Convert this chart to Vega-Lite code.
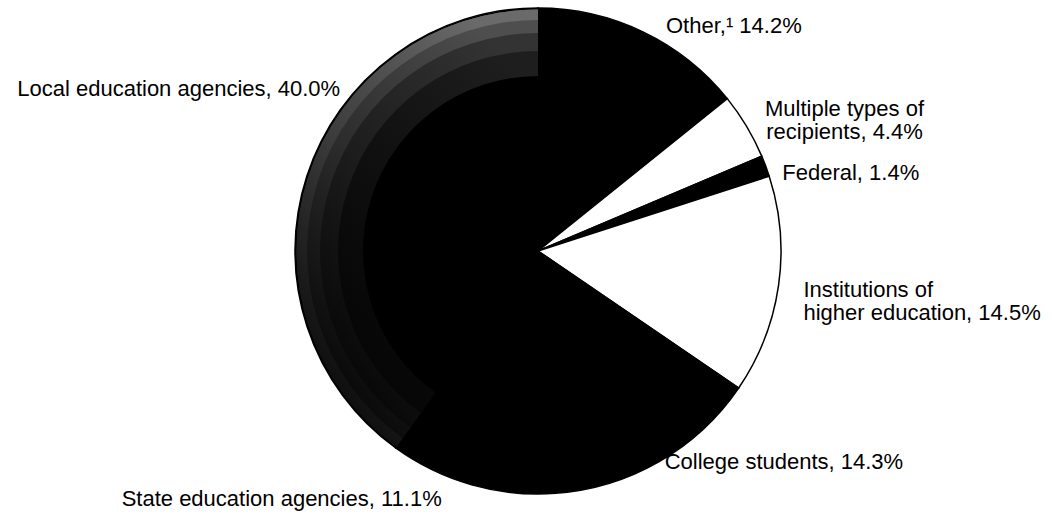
{
  "$schema": "https://vega.github.io/schema/vega-lite/v6.json",
  "width": 1000,
  "height": 486,
  "autosize": {"type": "none"},
  "padding": {"left": 38, "top": 8, "right": 14, "bottom": 29},
  "background": "white",
  "config": {"view": {"stroke": null}},
  "data": {
    "values": [
      {"cat": "Other", "label": "Other,¹ 14.2%", "pct": 14.2, "ord": 1},
      {"cat": "Multiple", "label": "Multiple types of\nrecipients, 4.4%", "pct": 4.4, "ord": 2},
      {"cat": "Federal", "label": "Federal, 1.4%", "pct": 1.4, "ord": 3},
      {"cat": "Institutions", "label": "Institutions of\nhigher education, 14.5%", "pct": 14.5, "ord": 4},
      {"cat": "College", "label": "College students, 14.3%", "pct": 14.3, "ord": 5},
      {"cat": "State", "label": "State education agencies, 11.1%", "pct": 11.1, "ord": 6},
      {"cat": "Local", "label": "Local education agencies, 40.0%", "pct": 40.0, "ord": 7}
    ]
  },
  "encoding": {
    "theta": {"field": "pct", "type": "quantitative", "stack": true},
    "order": {"field": "ord", "type": "quantitative"}
  },
  "layer": [
    {
      "mark": {"type": "arc", "outerRadius": 243, "stroke": "#000", "strokeWidth": 1.5},
      "encoding": {
        "color": {
          "field": "cat",
          "type": "nominal",
          "scale": {
            "domain": ["Other", "Multiple", "Federal", "Institutions", "College", "State", "Local"],
            "range": ["#000000", "#ffffff", "#000000", "#ffffff", "#000000", "#000000", "#000000"]
          },
          "legend": null
        }
      }
    },
    {
      "mark": {
        "type": "arc", "innerRadius": 175, "outerRadius": 241.5, "strokeWidth": 0,
        "fill": {"gradient": "linear", "x1": 0.7, "y1": 0, "x2": 0.05, "y2": 0.9,
          "stops": [{"offset": 0, "color": "#1e1e1e"}, {"offset": 0.5, "color": "#0e0e0e"}, {"offset": 1, "color": "#000000"}]}
      },
      "encoding": {"opacity": {"condition": {"test": "datum.cat === 'Local'", "value": 1}, "value": 0}}
    },
    {
      "mark": {
        "type": "arc", "innerRadius": 200, "outerRadius": 241.5, "strokeWidth": 0,
        "fill": {"gradient": "linear", "x1": 0.7, "y1": 0, "x2": 0.05, "y2": 0.9,
          "stops": [{"offset": 0, "color": "#333333"}, {"offset": 0.5, "color": "#1c1c1c"}, {"offset": 1, "color": "#000000"}]}
      },
      "encoding": {"opacity": {"condition": {"test": "datum.cat === 'Local'", "value": 1}, "value": 0}}
    },
    {
      "mark": {
        "type": "arc", "innerRadius": 218, "outerRadius": 241.5, "strokeWidth": 0,
        "fill": {"gradient": "linear", "x1": 0.7, "y1": 0, "x2": 0.05, "y2": 0.9,
          "stops": [{"offset": 0, "color": "#4e4e4e"}, {"offset": 0.5, "color": "#2c2c2c"}, {"offset": 1, "color": "#000000"}]}
      },
      "encoding": {"opacity": {"condition": {"test": "datum.cat === 'Local'", "value": 1}, "value": 0}}
    },
    {
      "mark": {
        "type": "arc", "innerRadius": 231, "outerRadius": 241.5, "strokeWidth": 0,
        "fill": {"gradient": "linear", "x1": 0.7, "y1": 0, "x2": 0.05, "y2": 0.9,
          "stops": [{"offset": 0, "color": "#6a6a6a"}, {"offset": 0.5, "color": "#3c3c3c"}, {"offset": 1, "color": "#050505"}]}
      },
      "encoding": {"opacity": {"condition": {"test": "datum.cat === 'Local'", "value": 1}, "value": 0}}
    },
    {
      "mark": {
        "type": "text",
        "radius": 250,
        "font": "Liberation Sans",
        "fontSize": 22,
        "lineBreak": "\n",
        "lineHeight": 23,
        "baseline": "alphabetic",
        "color": "#000000",
        "align": {"expr": "datum.cat === 'Multiple' ? 'center' : (datum.cat === 'State' || datum.cat === 'Local') ? 'right' : 'left'"},
        "dx": {"expr": "datum.cat === 'Other' ? 20 : datum.cat === 'Multiple' ? 92 : datum.cat === 'Federal' ? 10 : datum.cat === 'Institutions' ? 18 : datum.cat === 'College' ? 2 : datum.cat === 'State' ? -28 : 40"},
        "dy": {"expr": "datum.cat === 'Other' ? 7 : datum.cat === 'Multiple' ? -7 : datum.cat === 'Federal' ? 16 : datum.cat === 'Institutions' ? 10 : datum.cat === 'College' ? 1 : datum.cat === 'State' ? 15 : -78"}
      },
      "encoding": {
        "text": {"field": "label", "type": "nominal"}
      }
    }
  ]
}
